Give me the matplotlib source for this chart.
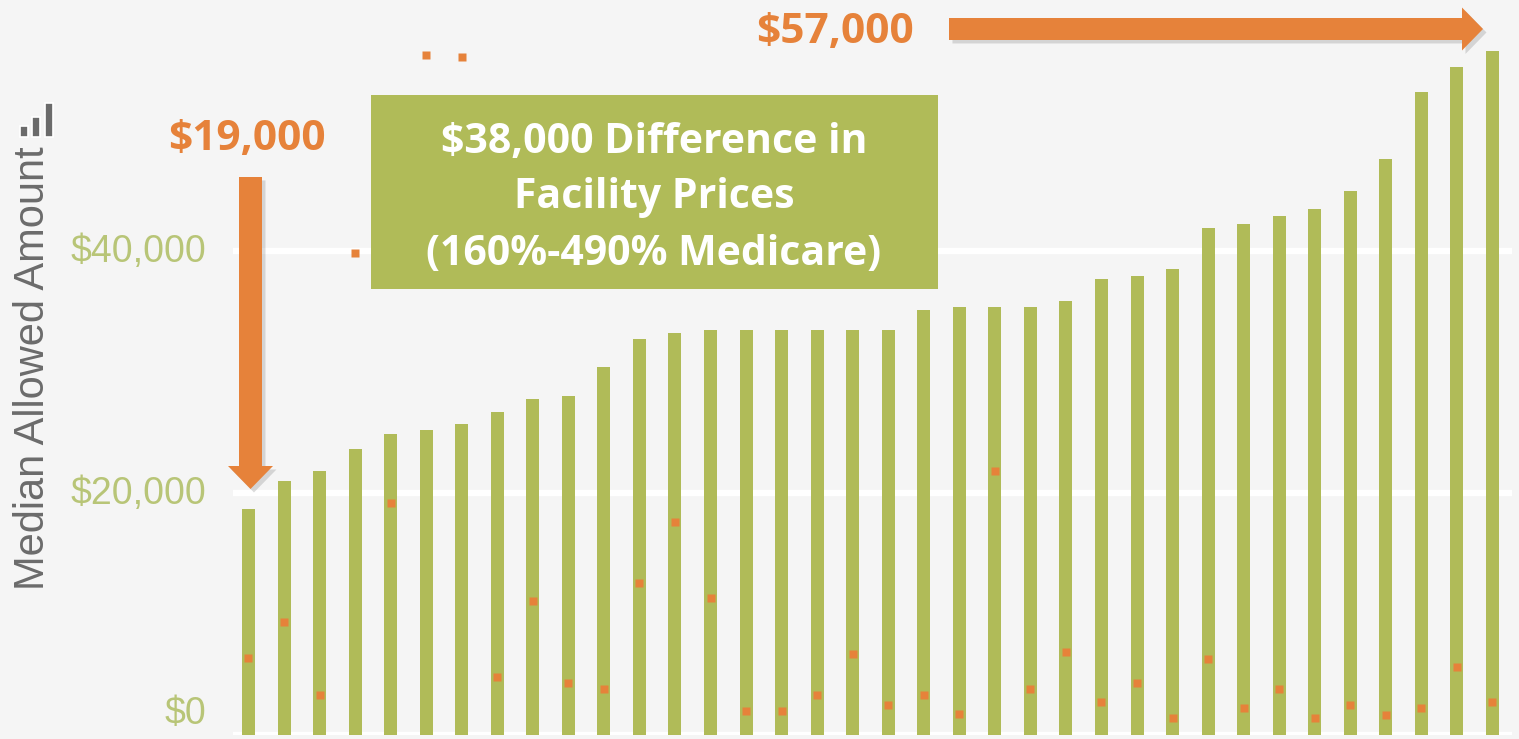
import matplotlib
matplotlib.use('Agg')
import matplotlib.pyplot as plt
import matplotlib.transforms as mtransforms
import matplotlib.patheffects as pe
from matplotlib.patches import Rectangle, FancyArrow
import numpy as np

# ---------------- data ----------------
facility_prices = [18700, 21000, 21800, 23600, 24900, 25200, 25700, 26700, 27800,
                   28000, 30400, 32700, 33200, 33500, 33500, 33500, 33500, 33500,
                   33500, 35100, 35400, 35400, 35400, 35900, 37700, 37900, 38500,
                   41900, 42200, 42900, 43500, 45000, 47600, 53100, 55200, 56500]
medicare_prices = [6400, 9300, 3300, 39800, 19200, 56200, 56000, 4800, 11100,
                   4300, 3800, 12600, 17600, 11300, 2000, 2000, 3300, 6700,
                   2500, 3300, 1700, 21800, 3800, 6900, 2700, 4300, 1400,
                   6300, 2200, 3800, 1400, 2500, 1650, 2200, 5600, 2700]
y_ticks = [0, 20000, 40000]
y_tick_labels = ['$0', '$20,000', '$40,000']
y_title = 'Median Allowed Amount'
low_label = '$19,000'
high_label = '$57,000'
box_lines = ['$38,000 Difference in', 'Facility Prices', '(160%-490% Medicare)']

# ---------------- style ----------------
GREEN = '#b0bb58'
ORANGE = '#e6823a'
BG = '#f5f5f5'
TICK_COLOR = '#b8c577'
TITLE_COLOR = '#6b6b6b'

W, H = 1519, 739
fig = plt.figure(figsize=(W / 100, H / 100), dpi=100, facecolor=BG)
ax = fig.add_axes([233 / W, 4 / H, (1512 - 233) / W, 735 / H])
ax.set_facecolor(BG)

x = np.arange(len(facility_prices))
ax.bar(x, facility_prices, width=0.366, color=GREEN, zorder=2)
ax.plot(x, medicare_prices, ls='none', marker='s', ms=5.2, mfc=ORANGE,
        mec='none', zorder=3, clip_on=False)

ax.set_xlim(-0.436, 35.55)
ax.set_ylim(0, 60744)
ax.set_xticks([])
ax.set_yticks(y_ticks)
ax.set_yticklabels(y_tick_labels, fontsize=27, family='Liberation Sans',
                   color=TICK_COLOR)
ax.tick_params(axis='y', length=0, pad=19)
ax.yaxis.grid(True, color='white', lw=4.5)
ax.set_axisbelow(True)
for s in ax.spines.values():
    s.set_visible(False)

# shift tick labels (the $0 label sits inside the view)
for lab, v in zip(ax.get_yticklabels(), y_ticks):
    dy = 25 if v == 0 else 3
    lab.set_transform(lab.get_transform() +
                      mtransforms.ScaledTranslation(0, dy / 100, fig.dpi_scale_trans))

# pixel transform (x from left, y from top)
px = mtransforms.Affine2D().scale(1, -1).translate(0, H)

# axis title + icon
fig.text(33, 368, y_title, rotation=90, ha='center', va='center', transform=px,
         fontsize=30, family='Liberation Sans', color=TITLE_COLOR)
for (ix, iy, iw, ih) in [(20, 126, 8, 11), (32, 117, 8, 20), (45, 103, 8, 34)]:
    fig.add_artist(Rectangle((ix, iy), iw, ih, transform=px, facecolor=TITLE_COLOR,
                             edgecolor='white', lw=1.2))

shadow = [pe.SimplePatchShadow(offset=(2.5, -2.5), shadow_rgbFace='#888888', alpha=0.3),
          pe.Normal()]

# down arrow
fig.add_artist(FancyArrow(250.5, 177, 0, 489 - 177, width=23, head_width=45,
                          head_length=23, length_includes_head=True, transform=px,
                          facecolor=ORANGE, edgecolor='none', path_effects=shadow))
# right arrow
fig.add_artist(FancyArrow(949, 29, 1483 - 949, 0, width=22, head_width=43,
                          head_length=21, length_includes_head=True, transform=px,
                          facecolor=ORANGE, edgecolor='none', path_effects=shadow))

# labels
fig.text(246.5, 150, low_label, ha='center', va='baseline', transform=px,
         fontsize=30.5, family='Open Sans', fontweight='bold', color=ORANGE)
fig.text(834.5, 43, high_label, ha='center', va='baseline', transform=px,
         fontsize=30.5, family='Open Sans', fontweight='bold', color=ORANGE)

# green box
fig.add_artist(Rectangle((371, 95), 567, 194, transform=px, facecolor=GREEN,
                         edgecolor='none'))
for line, base in zip(box_lines, [153, 208, 265]):
    fig.text(654, base, line, ha='center', va='baseline', transform=px,
             fontsize=29.5, family='Open Sans', fontweight='bold', color='white')

fig.savefig('out.png', dpi=100, facecolor=BG)
